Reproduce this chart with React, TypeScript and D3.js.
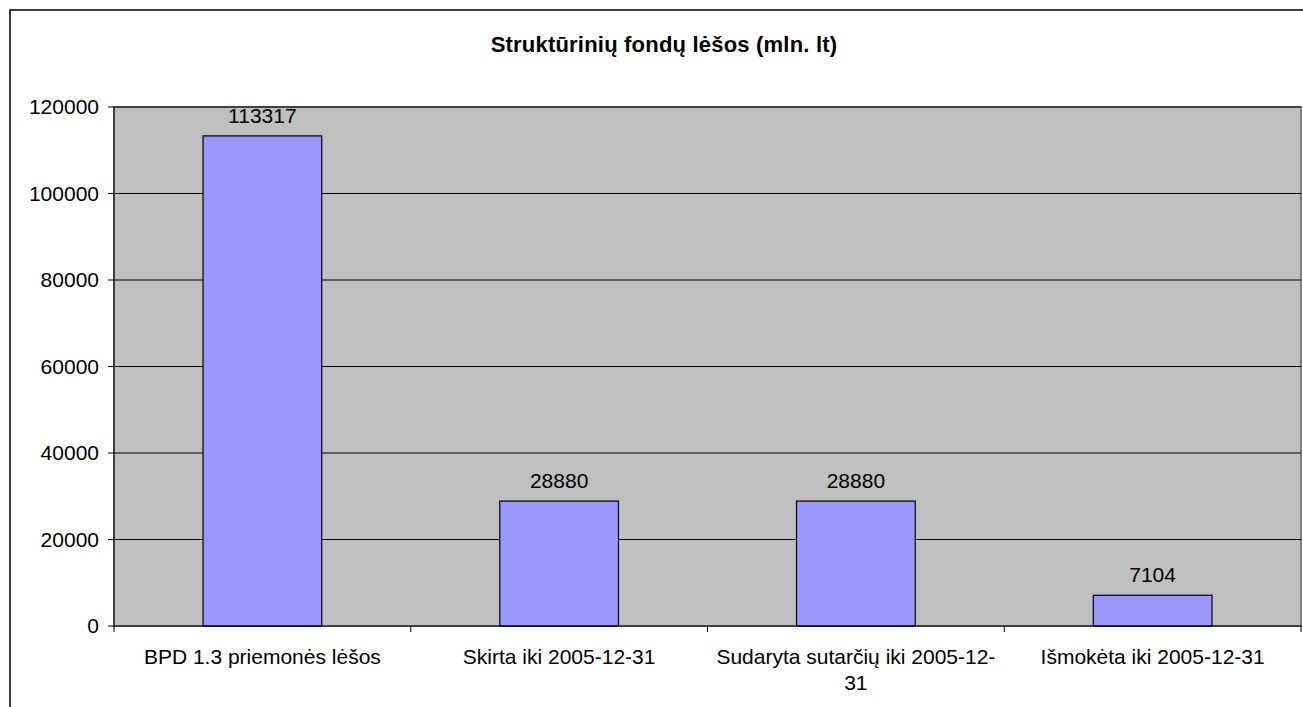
import React from "react";
import * as d3 from "d3";

const title = "Struktūrinių fondų lėšos (mln. lt)";
const categories = [
  "BPD 1.3 priemonės lėšos",
  "Skirta iki 2005-12-31",
  "Sudaryta sutarčių iki 2005-12-31",
  "Išmokėta iki 2005-12-31",
];
const values = [113317, 28880, 28880, 7104];
const yTicks = [0, 20000, 40000, 60000, 80000, 100000, 120000];

const W = 1303;
const H = 707;
const plot = { left: 114, top: 107, right: 1301, bottom: 626 };
const FONT = "'Liberation Sans', Arial, sans-serif";

let ctx: CanvasRenderingContext2D | null = null;
function measure(t: string, size: number): number {
  if (!ctx) ctx = document.createElement("canvas").getContext("2d");
  if (!ctx) return t.length * size * 0.5;
  ctx.font = `${size}px ${FONT}`;
  return ctx.measureText(t).width;
}
function wrap(text: string, maxW: number, size: number): string[] {
  const tokens = text.match(/[^\s-]+-?|\s+/g) || [text];
  const lines: string[] = [];
  let cur = "";
  for (const tk of tokens) {
    const next = cur + tk;
    if (cur.trim() && measure(next.trimEnd(), size) > maxW) {
      lines.push(cur.trimEnd());
      cur = tk.trimStart();
    } else cur = next;
  }
  if (cur.trim()) lines.push(cur.trimEnd());
  return lines;
}

export default function App() {
  const x = d3
    .scaleBand<string>()
    .domain(categories)
    .range([plot.left, plot.right])
    .paddingInner(0.6)
    .paddingOuter(0.3);
  const y = d3.scaleLinear().domain([0, 120000]).range([plot.bottom, plot.top]);
  const step = x.step();
  const bounds = d3.range(categories.length + 1).map((i) => plot.left + i * step);
  const fs = 21;

  return (
    <svg
      width={W}
      height={H}
      style={{ position: "absolute", left: 0, top: 0, background: "#fff" }}
      fontFamily={FONT}
    >
      <rect x={10} y={10} width={W + 20} height={H + 20} fill="#fff" stroke="#000" strokeWidth={1.5} />
      <text x={664} y={52} textAnchor="middle" fontWeight="bold" fontSize={22} letterSpacing={0.2}>
        {title}
      </text>
      <rect
        x={plot.left}
        y={plot.top}
        width={plot.right - plot.left}
        height={plot.bottom - plot.top}
        fill="#C0C0C0"
        stroke="#808080"
        strokeWidth={2}
      />
      {yTicks.slice(1).map((t) => (
        <line key={t} x1={plot.left} x2={plot.right} y1={y(t)} y2={y(t)} stroke="#000" strokeWidth={1} />
      ))}
      {categories.map((c, i) => (
        <rect
          key={c}
          x={x(c)}
          y={y(values[i])}
          width={x.bandwidth()}
          height={y(0) - y(values[i])}
          fill="#9999FF"
          stroke="#000"
          strokeWidth={1.2}
        />
      ))}
      {categories.map((c, i) => (
        <text
          key={"v" + c}
          x={(x(c) as number) + x.bandwidth() / 2}
          y={y(values[i]) - 13}
          textAnchor="middle"
          fontSize={fs}
        >
          {values[i]}
        </text>
      ))}
      <line x1={plot.left} x2={plot.left} y1={plot.top} y2={plot.bottom} stroke="#000" strokeWidth={1} />
      {yTicks.map((t) => (
        <g key={"yt" + t}>
          <line x1={plot.left - 6} x2={plot.left} y1={y(t)} y2={y(t)} stroke="#000" />
          <text x={plot.left - 15} y={y(t) + 7} textAnchor="end" fontSize={fs}>
            {t}
          </text>
        </g>
      ))}
      <line x1={plot.left} x2={plot.right} y1={plot.bottom} y2={plot.bottom} stroke="#000" strokeWidth={1.2} />
      {bounds.map((b, i) => (
        <line key={"xt" + i} x1={b} x2={b} y1={plot.bottom} y2={plot.bottom + 6} stroke="#000" />
      ))}
      {categories.map((c) => {
        const lines = wrap(c, step - 16, fs);
        const cx = (x(c) as number) + x.bandwidth() / 2;
        return (
          <text key={"xl" + c} x={cx} y={664} textAnchor="middle" fontSize={fs}>
            {lines.map((l, k) => (
              <tspan key={k} x={cx} dy={k === 0 ? 0 : 26}>
                {l}
              </tspan>
            ))}
          </text>
        );
      })}
    </svg>
  );
}
